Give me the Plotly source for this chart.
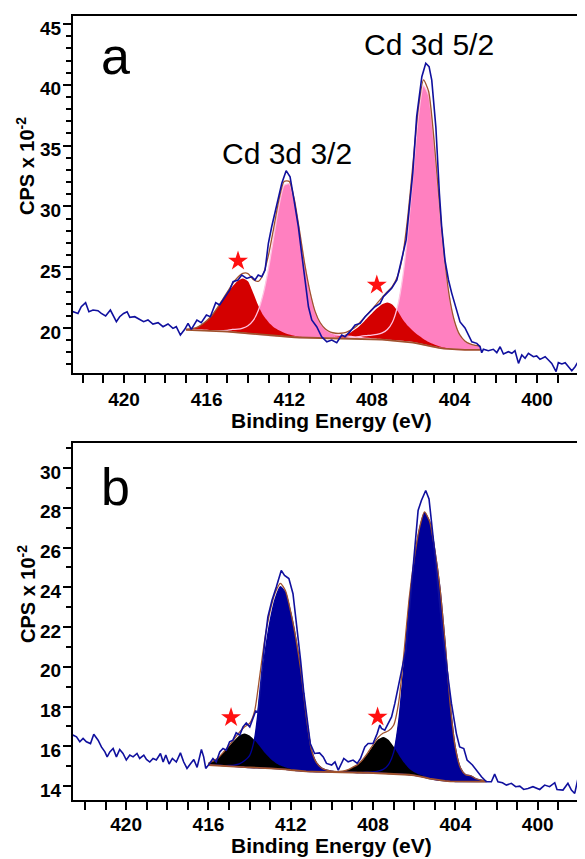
import plotly.graph_objects as go

# ---------------- Panel a : measured spectrum ----------------
exp_a_E = [422.6, 422.47, 422.23, 422.07, 421.86, 421.7, 421.5, 421.26, 421.1, 420.89,
           420.66, 420.53, 420.37, 420.21, 420.02, 419.85, 419.72, 419.48, 419.24, 419.05,
           418.84, 418.6, 418.35, 418.11, 417.87, 417.63, 417.47, 417.27, 417.06, 416.9,
           416.74, 416.47, 416.26, 416.01, 415.82, 415.56, 415.37, 415.12, 414.88, 414.72,
           414.48, 414.3, 414.06, 413.82, 413.66, 413.5, 413.33, 413.17, 413.01, 412.85,
           412.6, 412.36, 412.15, 411.96, 411.77, 411.56, 411.4, 411.23, 411.07, 410.91,
           410.67, 410.43, 410.18, 409.94, 409.7, 409.46, 409.3, 409.06, 408.81, 408.57,
           408.33, 408.09, 407.85, 407.6, 407.44, 407.2, 407.04, 406.79, 406.63, 406.47,
           406.34, 406.23, 406.12, 406.02, 405.83, 405.58, 405.39, 405.23, 405.1, 404.9,
           404.73, 404.62, 404.46, 404.29, 404.13, 403.92, 403.73, 403.49, 403.33, 403.16,
           402.92, 402.76, 402.68, 402.6, 402.36, 402.12, 401.95, 401.79, 401.63, 401.39,
           401.22, 401.07, 400.9, 400.74, 400.58, 400.42, 400.18, 400.02, 399.86, 399.61,
           399.45, 399.29, 399.08, 398.97, 398.8, 398.64, 398.48, 398.32, 398.16, 397.95,
           397.68, 397.5]
exp_a_cps = [21.2, 21.34, 21.2, 21.75, 22.08, 21.34, 21.48, 21.42, 21.2, 20.99,
             21.48, 20.99, 20.52, 20.93, 21.2, 21.34, 20.88, 20.93, 20.71, 20.52,
             20.66, 20.33, 20.44, 20.11, 20.33, 19.97, 20.11, 19.42, 19.89, 20.38,
             19.89, 20.66, 20.44, 21.07, 20.93, 22.08, 21.89, 22.57, 23.13, 23.81,
             23.95, 24.36, 24.08, 24.22, 23.95, 24.36, 24.22, 24.77, 26.97, 28.33,
             30.25, 31.9, 32.94, 32.44, 30.53, 28.33, 26.14, 23.68, 21.75, 20.66,
             20.11, 19.28, 18.87, 19.01, 18.79, 19.42, 19.28, 19.7, 20.25, 20.38,
             20.93, 21.34, 21.75, 22.03, 22.57, 22.99, 23.26, 23.95, 25.04, 26.14,
             27.24, 29.15, 31.08, 32.72, 37.38, 40.67, 41.77, 41.49, 40.39, 36.5,
             31.08, 28.33, 25.59, 23.95, 22.85, 21.5, 20.5, 20.0, 19.5, 18.87,
             18.74, 18.46, 17.97, 18.25, 18.13, 18.25, 17.97, 18.46, 17.86, 18.05,
             17.92, 18.13, 17.09, 17.78, 17.51, 17.92, 17.64, 17.7, 17.42, 17.64,
             17.37, 17.09, 16.41, 17.15, 17.04, 17.15, 16.82, 16.49, 16.82, 17.42,
             17.51, 17.4]

# ---------------- Panel a : fit (background + components, heights above bg) ----
fit_a_E = [417.0, 416.75, 416.5, 416.25, 416.0, 415.75, 415.5, 415.25, 415.0, 414.75,
           414.5, 414.25, 414.0, 413.75, 413.5, 413.25, 413.0, 412.75, 412.5, 412.25,
           412.0, 411.75, 411.5, 411.25, 411.0, 410.75, 410.5, 410.25, 410.0, 409.75,
           409.5, 409.25, 409.0, 408.75, 408.5, 408.25, 408.0, 407.75, 407.5, 407.25,
           407.0, 406.75, 406.5, 406.25, 406.0, 405.75, 405.5, 405.25, 405.0, 404.75,
           404.5, 404.25, 404.0, 403.75, 403.5, 403.25, 403.0, 402.75]
bg_a = [19.85, 19.84, 19.83, 19.82, 19.80, 19.78, 19.76, 19.73, 19.70, 19.66,
        19.62, 19.58, 19.54, 19.50, 19.46, 19.42, 19.38, 19.35, 19.32, 19.29,
        19.26, 19.24, 19.22, 19.21, 19.20, 19.20, 19.19, 19.19, 19.18, 19.18,
        19.17, 19.17, 19.16, 19.15, 19.14, 19.12, 19.10, 19.07, 19.04, 19.00,
        18.97, 18.94, 18.90, 18.86, 18.80, 18.72, 18.62, 18.52, 18.44, 18.37,
        18.31, 18.27, 18.24, 18.22, 18.21, 18.20, 18.20, 18.20]
cd32_a = [0, 0, 0, 0, 0, 0, 0, 0.05, 0.10, 0.22,
          0.28, 0.41, 0.64, 1.10, 1.98, 3.45, 5.55, 8.17, 10.72, 12.44,
          12.60, 11.18, 8.68, 6.00, 3.80, 2.17, 1.24, 0.70, 0.43, 0.29,
          0.22, 0.18, 0.15, 0.10, 0.06, 0.03, 0, 0, 0, 0,
          0, 0, 0, 0, 0, 0, 0, 0, 0, 0,
          0, 0, 0, 0, 0, 0, 0, 0]
sat32_a = [0.05, 0.10, 0.20, 0.45, 0.80, 1.25, 1.85, 2.50, 3.15, 3.75,
           4.25, 4.50, 4.30, 3.40, 2.40, 1.60, 1.10, 0.72, 0.50, 0.32,
           0.20, 0.12, 0.07, 0.04, 0.02, 0, 0, 0, 0, 0,
           0, 0, 0, 0, 0, 0, 0, 0, 0, 0,
           0, 0, 0, 0, 0, 0, 0, 0, 0, 0,
           0, 0, 0, 0, 0, 0, 0, 0]
cd52_a = [0, 0, 0, 0, 0, 0, 0, 0, 0, 0,
          0, 0, 0, 0, 0, 0, 0, 0, 0, 0,
          0, 0, 0, 0, 0, 0, 0, 0, 0, 0,
          0, 0, 0.05, 0.10, 0.20, 0.26, 0.32, 0.41, 0.56, 0.88,
          1.53, 2.88, 5.33, 9.14, 13.93, 18.70, 21.30, 20.60, 17.00, 12.15,
          7.63, 4.30, 2.30, 1.23, 0.73, 0.49, 0.37, 0.30]
sat52_a = [0, 0, 0, 0, 0, 0, 0, 0, 0, 0,
           0, 0, 0, 0, 0, 0, 0, 0, 0, 0,
           0, 0, 0, 0, 0, 0, 0, 0.03, 0.05, 0.10,
           0.18, 0.30, 0.50, 0.80, 1.20, 1.65, 2.10, 2.55, 2.92, 3.10,
           2.95, 2.45, 1.80, 1.30, 0.95, 0.68, 0.48, 0.33, 0.22, 0.14,
           0.08, 0.04, 0.02, 0, 0, 0, 0, 0]
star_a_E = [414.48, 407.76]
star_a_cps = [25.51, 23.54]

# ---------------- Panel b : measured spectrum ----------------
exp_b_E = [422.7, 422.57, 422.41, 422.25, 422.09, 421.93, 421.73, 421.57, 421.36, 421.2,
           421.03, 420.92, 420.79, 420.63, 420.47, 420.31, 420.15, 419.99, 419.82, 419.66,
           419.47, 419.34, 419.14, 419.01, 418.85, 418.69, 418.53, 418.33, 418.2, 418.07,
           417.91, 417.75, 417.56, 417.36, 417.2, 417.04, 416.88, 416.71, 416.55, 416.34,
           416.23, 416.13, 415.94, 415.78, 415.62, 415.45, 415.29, 415.13, 414.97, 414.81,
           414.65, 414.48, 414.32, 414.16, 413.99, 413.83, 413.7, 413.59, 413.43, 413.27,
           413.11, 412.91, 412.7, 412.46, 412.3, 412.09, 411.89, 411.7, 411.52, 411.36,
           411.21, 411.05, 410.84, 410.6, 410.42, 410.26, 410.01, 409.85, 409.69, 409.53,
           409.42, 409.21, 408.97, 408.77, 408.61, 408.4, 408.24, 408.0, 407.8, 407.67,
           407.59, 407.43, 407.27, 407.1, 406.94, 406.78, 406.62, 406.41, 406.25, 406.08,
           405.92, 405.81, 405.65, 405.44, 405.28, 405.21, 405.08, 404.92, 404.76, 404.6,
           404.4, 404.19, 403.95, 403.79, 403.59, 403.43, 403.17, 402.98, 402.73, 402.49,
           402.25, 402.09, 401.93, 401.71, 401.52, 401.28, 401.07, 400.87, 400.68, 400.47,
           400.23, 399.9, 399.66, 399.42, 399.17, 399.06, 398.77, 398.53, 398.36, 398.2,
           398.04, 397.87, 397.71, 397.5]
exp_b_cps = [16.5, 16.56, 16.48, 16.23, 16.4, 16.23, 16.14, 16.61, 16.31, 15.97,
             15.72, 15.47, 15.72, 15.89, 15.47, 15.84, 15.64, 15.31, 15.56, 15.47,
             15.64, 15.39, 15.56, 15.34, 15.21, 15.39, 15.31, 15.64, 15.21, 15.56,
             15.11, 15.39, 15.21, 15.67, 15.21, 14.89, 15.11, 15.34, 14.94, 15.84,
             15.47, 14.89, 15.14, 15.39, 15.21, 15.72, 15.89, 15.81, 16.23, 16.31,
             16.68, 16.56, 16.98, 17.18, 16.98, 17.48, 17.78, 17.73, 19.49, 21.17,
             22.51, 23.35, 24.02, 24.85, 24.6, 24.44, 23.68, 22.01, 20.33, 18.66,
             17.32, 16.14, 15.64, 15.67, 15.47, 15.14, 15.06, 15.22, 14.8, 15.14,
             15.39, 15.22, 15.31, 15.14, 15.39, 15.97, 16.14, 16.14, 16.64, 17.07,
             16.9, 16.81, 17.15, 17.48, 18.16, 18.99, 19.66, 20.83, 22.68, 24.85,
             26.53, 27.87, 28.37, 28.87, 28.45, 27.87, 26.53, 24.85, 23.18, 21.5,
             19.83, 18.16, 16.64, 15.97, 15.89, 15.31, 15.06, 14.8, 14.47, 14.22,
             14.22, 14.6, 14.22, 14.17, 14.05, 14.14, 13.97, 14.0, 13.83, 13.88,
             13.97, 13.83, 14.05, 13.97, 14.17, 13.83, 13.8, 14.14, 13.8, 13.63,
             14.39, 14.55, 14.3, 14.4]

# ---------------- Panel b : fit ----------------
fit_b_E = [416.0, 415.75, 415.5, 415.25, 415.0, 414.75, 414.5, 414.25, 414.0, 413.75,
           413.5, 413.25, 413.0, 412.75, 412.5, 412.25, 412.0, 411.75, 411.5, 411.25,
           411.0, 410.75, 410.5, 410.25, 410.0, 409.75, 409.5, 409.25, 409.0, 408.75,
           408.5, 408.25, 408.0, 407.75, 407.5, 407.25, 407.0, 406.75, 406.5, 406.25,
           406.0, 405.75, 405.5, 405.25, 405.0, 404.75, 404.5, 404.25, 404.0, 403.75,
           403.5, 403.25, 403.0, 402.75, 402.5]
bg_b = [15.06, 15.05, 15.04, 15.03, 15.01, 14.99, 14.97, 14.95, 14.93, 14.92,
        14.91, 14.90, 14.89, 14.88, 14.86, 14.84, 14.81, 14.78, 14.76, 14.74,
        14.73, 14.72, 14.72, 14.71, 14.71, 14.70, 14.70, 14.69, 14.69, 14.68,
        14.67, 14.67, 14.66, 14.65, 14.64, 14.63, 14.62, 14.61, 14.59, 14.57,
        14.54, 14.50, 14.44, 14.38, 14.33, 14.29, 14.26, 14.24, 14.23, 14.22,
        14.22, 14.22, 14.22, 14.22, 14.22]
cd32_b = [0, 0, 0, 0, 0.03, 0.07, 0.15, 0.32, 0.60, 1.50,
          3.60, 5.80, 7.43, 8.56, 9.17, 8.88, 7.91, 6.62, 5.00, 2.80,
          1.12, 0.46, 0.19, 0.09, 0.04, 0, 0, 0, 0, 0,
          0, 0, 0, 0, 0, 0, 0, 0, 0, 0,
          0, 0, 0, 0, 0, 0, 0, 0, 0, 0,
          0, 0, 0, 0, 0]
sat32_b = [0.10, 0.22, 0.40, 0.70, 1.00, 1.30, 1.58, 1.70, 1.62, 1.38,
           1.08, 0.76, 0.50, 0.30, 0.17, 0.09, 0.05, 0.02, 0, 0,
           0, 0, 0, 0, 0, 0, 0, 0, 0, 0,
           0, 0, 0, 0, 0, 0, 0, 0, 0, 0,
           0, 0, 0, 0, 0, 0, 0, 0, 0, 0,
           0, 0, 0, 0, 0]
cd52_b = [0, 0, 0, 0, 0, 0, 0, 0, 0, 0,
          0, 0, 0, 0, 0, 0, 0, 0, 0, 0,
          0, 0, 0, 0, 0, 0, 0, 0, 0, 0,
          0.02, 0.03, 0.05, 0.10, 0.20, 0.45, 1.07, 2.67, 5.48, 8.51,
          10.71, 12.37, 13.31, 12.93, 11.56, 9.70, 6.97, 3.86, 1.70, 0.69,
          0.35, 0.30, 0.15, 0.08, 0.03]
sat52_b = [0, 0, 0, 0, 0, 0, 0, 0, 0, 0,
           0, 0, 0, 0, 0, 0, 0, 0, 0, 0,
           0, 0, 0, 0, 0, 0.03, 0.05, 0.12, 0.25, 0.40,
           0.65, 0.98, 1.37, 1.70, 1.83, 1.70, 1.37, 0.96, 0.60, 0.32,
           0.16, 0.08, 0.04, 0, 0, 0, 0, 0, 0, 0,
           0, 0, 0, 0, 0]
star_b_E = [414.9, 407.78]
star_b_cps = [17.45, 17.48]

# tick values
x_tick_vals = [420, 416, 412, 408, 404, 400]
y_tick_vals_a = [20, 25, 30, 35, 40, 45]
y_tick_vals_b = [14, 16, 18, 20, 22, 24, 26, 28, 30]

for a, b in [(exp_a_E, exp_a_cps), (exp_b_E, exp_b_cps)]:
    assert len(a) == len(b)
for arrs in [(fit_a_E, bg_a, cd32_a, sat32_a, cd52_a, sat52_a),
             (fit_b_E, bg_b, cd32_b, sat32_b, cd52_b, sat52_b)]:
    assert all(len(v) == len(arrs[0]) for v in arrs), [len(v) for v in arrs]

# ---------------- figure ----------------
# the page body keeps its default 8px margin, so the figure is drawn
# 8px smaller and every page-pixel position is shifted by that offset
OFF = 8
W, H = 585 - OFF, 859 - OFF
FONT = "Liberation Sans, Arial, sans-serif"
BROWN = "#a0522d"


def py(p):
    return 1 - (p - OFF) / H


def px(p):
    return (p - OFF) / W


fig = go.Figure()


def add_panel(xa, ya, E, bg, mains, sats, main_fill, main_line, sat_fill,
              ex_E, ex_v, st_E, st_v, data_color):
    def top(comp):
        return [b + c for b, c in zip(bg, comp)]

    def poly(comp, color):
        fig.add_trace(go.Scatter(
            x=list(E) + list(E)[::-1], y=top(comp) + list(bg)[::-1],
            xaxis=xa, yaxis=ya, mode="lines", fill="toself", fillcolor=color,
            line=dict(width=0, color=color, shape="spline", smoothing=0.6),
            hoverinfo="skip", showlegend=False))

    for c in mains:
        poly(c, main_fill)
    for c in sats:
        poly(c, sat_fill)
    for c in mains:
        fig.add_trace(go.Scatter(
            x=E, y=top(c), xaxis=xa, yaxis=ya, mode="lines",
            line=dict(width=1.3, color=main_line, shape="spline", smoothing=0.6),
            hoverinfo="skip", showlegend=False))
    env = [b + sum(vals) for b, vals in zip(bg, zip(*(mains + sats)))]
    fig.add_trace(go.Scatter(x=E, y=env, xaxis=xa, yaxis=ya, mode="lines",
                             line=dict(width=1.3, color=BROWN, shape="spline", smoothing=0.6),
                             showlegend=False))
    fig.add_trace(go.Scatter(x=E, y=bg, xaxis=xa, yaxis=ya, mode="lines",
                             line=dict(width=1.8, color=BROWN), showlegend=False))
    fig.add_trace(go.Scatter(x=ex_E, y=ex_v, xaxis=xa, yaxis=ya, mode="lines",
                             line=dict(width=1.6, color=data_color), showlegend=False))
    fig.add_trace(go.Scatter(x=st_E, y=st_v, xaxis=xa, yaxis=ya, mode="markers",
                             marker=dict(symbol="star", size=15, color="#ff1010",
                                         line=dict(width=0)),
                             showlegend=False))


add_panel("x", "y", fit_a_E, bg_a, [cd32_a, cd52_a], [sat32_a, sat52_a],
          "#ff80c0", "#ffc4e2", "#d40000", exp_a_E, exp_a_cps, star_a_E, star_a_cps, "#10109e")
add_panel("x2", "y2", fit_b_E, bg_b, [cd32_b, cd52_b], [sat32_b, sat52_b],
          "#000099", "#000099", "#000000", exp_b_E, exp_b_cps, star_b_E, star_b_cps, "#10109e")

tickfont = dict(family=FONT, size=19, color="black", weight="bold")


def xaxis_cfg(rng, anchor, standoff):
    return dict(
        domain=[px(73), 1.0], range=rng, anchor=anchor,
        tickmode="array", tickvals=x_tick_vals, ticktext=[str(v) for v in x_tick_vals],
        ticks="outside", ticklen=8, tickwidth=2, tickcolor="black",
        minor=dict(dtick=1, tick0=400, ticks="outside", ticklen=8, tickwidth=2,
                   tickcolor="black", showgrid=False),
        showline=True, linewidth=2, linecolor="black", mirror=True,
        showgrid=False, zeroline=False, tickfont=tickfont, ticklabelstandoff=standoff)


def yaxis_cfg(rng, dom, vals, anchor):
    return dict(
        domain=dom, range=rng, anchor=anchor,
        tickmode="array", tickvals=vals, ticktext=[str(v) for v in vals],
        ticks="outside", ticklen=8, tickwidth=2, tickcolor="black",
        minor=dict(dtick=1, tick0=0, ticks="outside", ticklen=5, tickwidth=2,
                   tickcolor="black", showgrid=False),
        showline=True, linewidth=2, linecolor="black", mirror=False,
        showgrid=False, zeroline=False, tickfont=tickfont, ticklabelshift=4,
        ticklabelstandoff=-2)


fig.update_layout(
    width=W, height=H, margin=dict(l=0, r=0, t=0, b=0),
    paper_bgcolor="white", plot_bgcolor="white", showlegend=False,
    font=dict(family=FONT, color="black"),
    xaxis=xaxis_cfg([422.47, 397.68], "y", 0),
    yaxis=yaxis_cfg([16.3, 45.66], [py(373), py(16)], y_tick_vals_a, "x"),
    xaxis2=xaxis_cfg([422.58, 397.70], "y2", -2),
    yaxis2=yaxis_cfg([13.3, 31.26], [py(800), py(443)], y_tick_vals_b, "x2"),
)

ann = []
# panel letters
for letter, yc in (("a", 56), ("b", 487)):
    ann.append(dict(text=letter, x=px(115), y=py(yc), xref="paper", yref="paper",
                    showarrow=False, font=dict(family=FONT, size=52, color="black"),
                    xanchor="center", yanchor="middle"))
# peak labels
ann.append(dict(text="Cd 3d 3/2", x=px(287), y=py(153), xref="paper", yref="paper",
                showarrow=False, font=dict(family=FONT, size=30, color="black"),
                xanchor="center", yanchor="middle"))
ann.append(dict(text="Cd 3d 5/2", x=px(429), y=py(44), xref="paper", yref="paper",
                showarrow=False, font=dict(family=FONT, size=30, color="black"),
                xanchor="center", yanchor="middle"))
# axis titles
for yc in (420, 845):
    ann.append(dict(text="<b>Binding Energy (eV)</b>", x=px(331), y=py(yc),
                    xref="paper", yref="paper", showarrow=False,
                    font=dict(family=FONT, size=21, color="black"),
                    xanchor="center", yanchor="middle", borderpad=0))
for yc in (166, 594):
    ann.append(dict(text="<b>CPS x 10<sup>-2</sup></b>", x=px(26), y=py(yc),
                    xref="paper", yref="paper", showarrow=False, textangle=-90,
                    font=dict(family=FONT, size=20, color="black"),
                    xanchor="center", yanchor="middle"))
fig.update_layout(annotations=ann)

fig.write_html("out.html")
